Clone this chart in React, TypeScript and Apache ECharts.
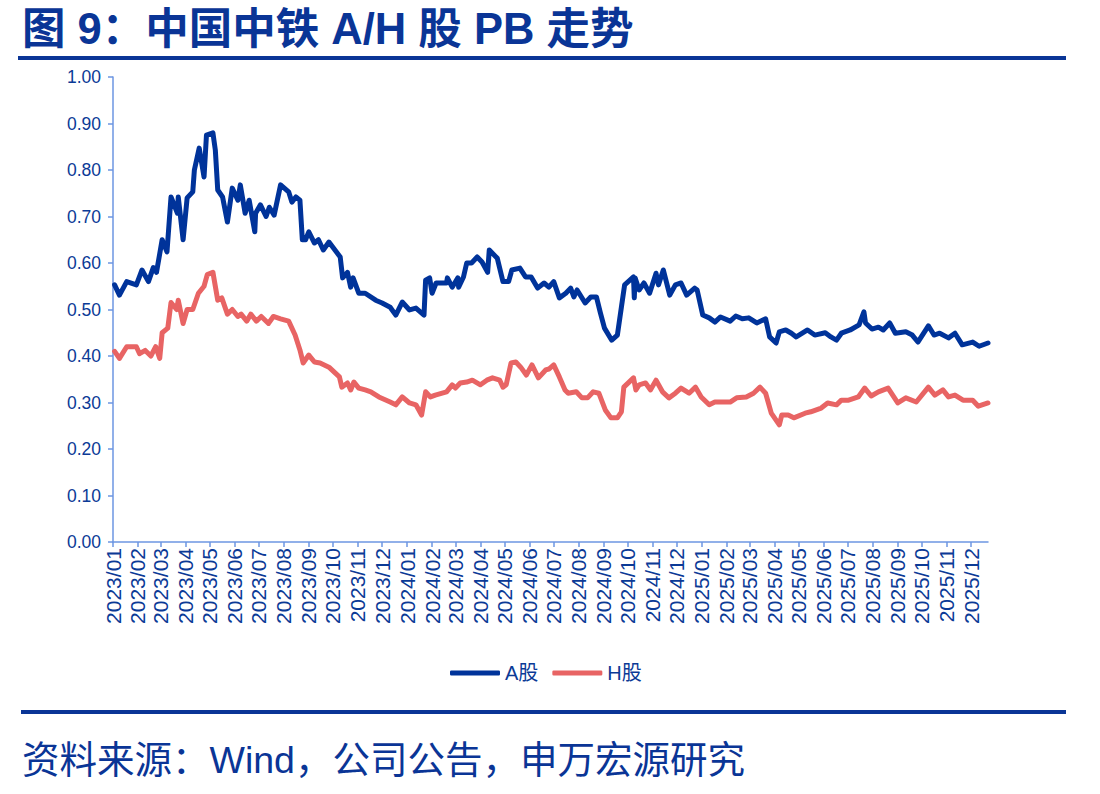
import React, { useEffect, useRef } from "react";
import * as echarts from "echarts";

const TITLE = "图 9：中国中铁 A/H 股 PB 走势";
const SOURCE = "资料来源：Wind，公司公告，申万宏源研究";
const SERIES_NAMES = ["A股", "H股"];

const monthTicks = [
  "2023/01","2023/02","2023/03","2023/04","2023/05","2023/06","2023/07","2023/08","2023/09","2023/10","2023/11","2023/12",
  "2024/01","2024/02","2024/03","2024/04","2024/05","2024/06","2024/07","2024/08","2024/09","2024/10","2024/11","2024/12",
  "2025/01","2025/02","2025/03","2025/04","2025/05","2025/06","2025/07","2025/08","2025/09","2025/10","2025/11","2025/12",
];

const aDates = [
  "2023-01-03","2023-01-09","2023-01-18","2023-01-30","2023-02-06","2023-02-14","2023-02-20","2023-02-24",
  "2023-03-03","2023-03-09","2023-03-14","2023-03-22","2023-03-23","2023-03-29","2023-04-03","2023-04-10",
  "2023-04-12","2023-04-18","2023-04-24","2023-04-27","2023-05-05","2023-05-08","2023-05-11","2023-05-17",
  "2023-05-23","2023-05-29","2023-06-05","2023-06-08","2023-06-14","2023-06-19","2023-06-26","2023-06-27",
  "2023-07-03","2023-07-10","2023-07-14","2023-07-20","2023-07-28","2023-08-07","2023-08-11","2023-08-16",
  "2023-08-21","2023-08-24","2023-08-28","2023-09-01","2023-09-08","2023-09-13","2023-09-19","2023-09-26",
  "2023-10-10","2023-10-13","2023-10-19","2023-10-23","2023-10-26","2023-11-02","2023-11-10","2023-11-23",
  "2023-12-01","2023-12-11","2023-12-18","2023-12-26","2024-01-04","2024-01-12","2024-01-22","2024-01-24",
  "2024-01-29","2024-02-01","2024-02-06","2024-02-19","2024-02-20","2024-02-26","2024-03-04","2024-03-05",
  "2024-03-11","2024-03-15","2024-03-21","2024-03-28","2024-04-03","2024-04-10","2024-04-12","2024-04-22",
  "2024-04-29","2024-05-06","2024-05-10","2024-05-20","2024-05-27","2024-06-03","2024-06-11","2024-06-19",
  "2024-06-25","2024-07-01","2024-07-08","2024-07-16","2024-07-22","2024-07-26","2024-07-30","2024-08-09",
  "2024-08-16","2024-08-23","2024-08-28","2024-09-02","2024-09-11","2024-09-18","2024-09-23","2024-09-27",
  "2024-10-08","2024-10-09","2024-10-10","2024-10-15","2024-10-21","2024-10-28","2024-11-05","2024-11-08",
  "2024-11-14","2024-11-22","2024-11-29","2024-12-06","2024-12-13","2024-12-23","2024-12-26","2025-01-02",
  "2025-01-10","2025-01-17","2025-01-24","2025-02-05","2025-02-12","2025-02-20","2025-02-28","2025-03-10",
  "2025-03-21","2025-03-26","2025-04-03","2025-04-07","2025-04-15","2025-04-22","2025-04-28","2025-05-12",
  "2025-05-21","2025-06-03","2025-06-10","2025-06-17","2025-06-23","2025-07-04","2025-07-15","2025-07-21",
  "2025-07-23","2025-07-31","2025-08-08","2025-08-14","2025-08-22","2025-08-29","2025-09-11","2025-09-19",
  "2025-09-26","2025-10-09","2025-10-16","2025-10-23","2025-11-03","2025-11-11","2025-11-20","2025-12-03",
  "2025-12-11","2025-12-22",
];
const aValues = [
  0.553,0.531,0.560,0.553,0.585,0.560,0.590,0.580,
  0.650,0.624,0.742,0.707,0.742,0.650,0.740,0.753,
  0.800,0.847,0.785,0.875,0.880,0.843,0.757,0.742,
  0.688,0.761,0.735,0.768,0.707,0.735,0.667,0.707,
  0.725,0.700,0.720,0.703,0.768,0.753,0.731,0.742,
  0.735,0.650,0.650,0.667,0.643,0.650,0.628,0.645,
  0.613,0.568,0.580,0.548,0.568,0.535,0.535,0.520,
  0.514,0.505,0.488,0.516,0.499,0.503,0.488,0.563,
  0.568,0.535,0.557,0.557,0.568,0.548,0.568,0.548,
  0.570,0.600,0.600,0.613,0.602,0.580,0.628,0.610,
  0.560,0.560,0.585,0.589,0.570,0.570,0.546,0.557,
  0.548,0.560,0.525,0.535,0.546,0.527,0.542,0.514,
  0.527,0.527,0.492,0.460,0.434,0.445,0.505,0.553,
  0.570,0.525,0.568,0.542,0.557,0.535,0.578,0.553,
  0.585,0.531,0.553,0.557,0.531,0.546,0.542,0.488,
  0.482,0.473,0.484,0.475,0.486,0.480,0.482,0.471,
  0.480,0.441,0.428,0.452,0.456,0.449,0.441,0.456,
  0.445,0.450,0.441,0.434,0.449,0.456,0.467,0.495,
  0.471,0.458,0.462,0.456,0.471,0.449,0.452,0.445,
  0.430,0.465,0.445,0.449,0.439,0.449,0.424,0.430,
  0.421,0.428,
];

const hDates = [
  "2023-01-03","2023-01-09","2023-01-18","2023-01-30","2023-02-03","2023-02-10","2023-02-17","2023-02-23",
  "2023-02-28","2023-03-03","2023-03-10","2023-03-14","2023-03-21","2023-03-23","2023-03-29","2023-04-03",
  "2023-04-10","2023-04-17","2023-04-24","2023-04-28","2023-05-05","2023-05-08","2023-05-11","2023-05-16",
  "2023-05-23","2023-05-29","2023-06-05","2023-06-09","2023-06-16","2023-06-21","2023-06-28","2023-07-04",
  "2023-07-13","2023-07-19","2023-07-28","2023-08-07","2023-08-15","2023-08-21","2023-08-25","2023-09-01",
  "2023-09-08","2023-09-15","2023-09-26","2023-10-09","2023-10-12","2023-10-19","2023-10-23","2023-10-27",
  "2023-11-02","2023-11-10","2023-11-17","2023-11-27","2023-12-11","2023-12-18","2023-12-26","2024-01-04",
  "2024-01-12","2024-01-19","2024-01-24","2024-01-30","2024-02-05","2024-02-19","2024-02-26","2024-03-01",
  "2024-03-07","2024-03-15","2024-03-22","2024-04-01","2024-04-09","2024-04-16","2024-04-25","2024-04-29",
  "2024-05-03","2024-05-09","2024-05-15","2024-05-21","2024-05-28","2024-06-04","2024-06-12","2024-06-21",
  "2024-06-25","2024-07-01","2024-07-08","2024-07-15","2024-07-19","2024-07-29","2024-08-05","2024-08-12",
  "2024-08-19","2024-08-26","2024-09-03","2024-09-10","2024-09-18","2024-09-23","2024-09-26","2024-10-08",
  "2024-10-11","2024-10-15","2024-10-23","2024-10-29","2024-11-05","2024-11-13","2024-11-21","2024-11-29",
  "2024-12-06","2024-12-16","2024-12-24","2024-12-31","2025-01-10","2025-01-17","2025-02-05","2025-02-13",
  "2025-02-25","2025-03-06","2025-03-14","2025-03-21","2025-03-28","2025-04-07","2025-04-10","2025-04-18",
  "2025-04-25","2025-05-09","2025-05-16","2025-05-29","2025-06-06","2025-06-17","2025-06-23","2025-07-02",
  "2025-07-14","2025-07-22","2025-07-30","2025-08-08","2025-08-20","2025-09-01","2025-09-11","2025-09-24",
  "2025-10-09","2025-10-17","2025-10-27","2025-11-03","2025-11-11","2025-11-21","2025-12-03","2025-12-10",
  "2025-12-22",
];
const hValues = [
  0.410,0.395,0.420,0.420,0.405,0.412,0.400,0.420,
  0.395,0.450,0.460,0.515,0.500,0.520,0.470,0.500,
  0.500,0.535,0.550,0.575,0.580,0.550,0.520,0.525,
  0.490,0.500,0.485,0.490,0.475,0.490,0.475,0.485,
  0.470,0.485,0.480,0.475,0.445,0.413,0.385,0.402,
  0.387,0.385,0.376,0.355,0.333,0.342,0.327,0.344,
  0.331,0.327,0.323,0.312,0.301,0.295,0.312,0.299,
  0.295,0.273,0.323,0.312,0.316,0.323,0.338,0.331,
  0.342,0.344,0.348,0.338,0.348,0.353,0.348,0.333,
  0.338,0.385,0.387,0.376,0.359,0.381,0.353,0.370,
  0.372,0.381,0.355,0.327,0.320,0.323,0.310,0.310,
  0.323,0.320,0.284,0.267,0.267,0.280,0.333,0.353,
  0.327,0.338,0.342,0.327,0.348,0.323,0.310,0.320,
  0.331,0.320,0.333,0.312,0.295,0.301,0.301,0.310,
  0.312,0.320,0.333,0.320,0.277,0.252,0.273,0.273,
  0.267,0.277,0.280,0.288,0.299,0.295,0.305,0.305,
  0.312,0.331,0.314,0.323,0.331,0.299,0.310,0.301,
  0.333,0.316,0.327,0.312,0.316,0.305,0.305,0.292,
  0.299,
];

const X_MIN = "2023-01-01";
const X_MAX = "2025-12-22";

const toTime = (s: string) => {
  const [y, m, d] = s.split(/[-/]/).map(Number);
  return Date.UTC(y, m - 1, d || 1);
};

const BLUE = "#00339a";
const RED = "#e86464";
const AXIS = "#6d96e2";
const TEXT = "#0b3a96";
const FONT = '"Liberation Sans", Arial, "Noto Sans CJK SC", sans-serif';

export default function App() {
  const ref = useRef<HTMLDivElement>(null);
  useEffect(() => {
    if (!ref.current) return;
    const chart = echarts.init(ref.current, undefined, { renderer: "svg" });
    const tickValues = monthTicks.map(toTime);
    const aData = aDates.map((d, i) => [toTime(d), aValues[i]]);
    const hData = hDates.map((d, i) => [toTime(d), hValues[i]]);
    chart.setOption({
      animation: false,
      backgroundColor: "#ffffff",
      textStyle: { fontFamily: FONT },
      grid: { left: 113, right: 112, top: 77, bottom: 252, containLabel: false },
      legend: {
        data: SERIES_NAMES,
        top: 658,
        left: 445,
        icon: "roundRect",
        itemWidth: 50,
        itemHeight: 5,
        itemGap: 14,
        textStyle: { fontSize: 20, color: TEXT, fontFamily: FONT },
      },
      xAxis: {
        type: "value",
        min: toTime(X_MIN),
        max: toTime(X_MAX),
        axisLine: { show: true, onZero: false, lineStyle: { color: AXIS, width: 1.5 } },
        axisTick: { show: true, length: 5, lineStyle: { color: AXIS, width: 1.5 }, customValues: tickValues },
        splitLine: { show: false },
        axisLabel: {
          customValues: tickValues,
          rotate: 90,
          margin: 6,
          fontSize: 21,
          color: TEXT,
          fontFamily: FONT,
          showMinLabel: true,
          showMaxLabel: true,
          formatter: (v: number) => {
            const dt = new Date(v);
            const m = dt.getUTCMonth() + 1;
            return dt.getUTCFullYear() + "/" + (m < 10 ? "0" + m : "" + m);
          },
        },
      },
      yAxis: {
        type: "value",
        min: 0,
        max: 1,
        interval: 0.1,
        axisLine: { show: true, lineStyle: { color: AXIS, width: 1.5 } },
        axisTick: { show: true, length: 5, lineStyle: { color: AXIS, width: 1.5 } },
        splitLine: { show: false },
        axisLabel: {
          fontSize: 17.5,
          color: TEXT,
          margin: 12,
          fontFamily: FONT,
          formatter: (v: number) => v.toFixed(2),
        },
      },
      series: [
        {
          name: SERIES_NAMES[0],
          type: "line",
          data: aData,
          symbol: "none",
          lineStyle: { color: BLUE, width: 5, cap: "round", join: "round" },
          itemStyle: { color: BLUE },
          z: 3,
        },
        {
          name: SERIES_NAMES[1],
          type: "line",
          data: hData,
          symbol: "none",
          lineStyle: { color: RED, width: 5, cap: "round", join: "round" },
          itemStyle: { color: RED },
          z: 2,
        },
      ],
      graphic: [
        {
          type: "text",
          left: 22,
          top: 7,
          style: { text: TITLE, fontSize: 43.5, fontWeight: "bold", fill: "#0a3596", fontFamily: FONT },
        },
        { type: "rect", shape: { x: 18, y: 56, width: 1048, height: 4 }, style: { fill: "#0a3596" } },
        { type: "rect", shape: { x: 21, y: 710, width: 1045, height: 4 }, style: { fill: "#0a3596" } },
        {
          type: "text",
          left: 22,
          top: 741,
          style: { text: SOURCE, fontSize: 37.5, fill: "#0a3596", fontFamily: FONT },
        },
      ],
    });
    return () => chart.dispose();
  }, []);
  return (
    <div
      ref={ref}
      style={{ position: "fixed", left: 0, top: 0, width: 1100, height: 794, background: "#fff" }}
    />
  );
}
